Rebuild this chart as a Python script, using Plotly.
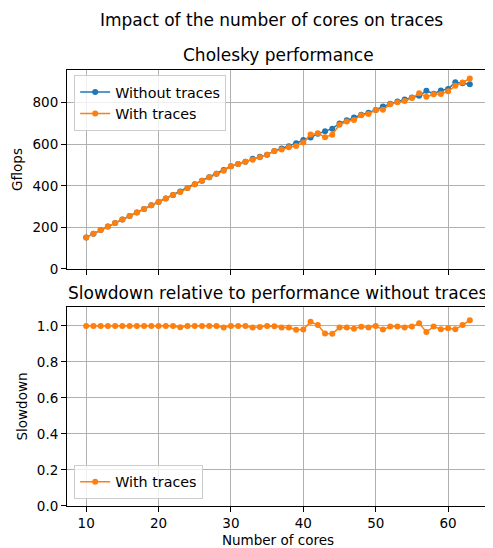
import plotly.graph_objects as go

# number of cores used for each run
cores = list(range(10, 64))

# Cholesky performance (Gflops)
gflops_without = [152, 170, 187, 204, 221, 238, 255, 272, 289, 306,
                  322, 339, 356, 373, 390, 407, 424, 441, 458, 476,
                  494, 505, 516, 530, 540, 550, 568, 580, 590, 605,
                  620, 632, 650, 662, 675, 700, 715, 728, 742, 752,
                  765, 782, 795, 805, 815, 825, 833, 857, 843, 858,
                  866, 898, 893, 888]
gflops_with = [152, 170, 187, 204, 221, 238, 255, 272, 289, 306,
               322, 339, 356, 370, 390, 407, 424, 441, 458, 472,
               494, 505, 516, 525, 537, 550, 567, 575, 585, 592,
               608, 647, 653, 634, 646, 694, 709, 717, 739, 745,
               765, 766, 792, 802, 808, 822, 845, 828, 840, 842,
               855, 881, 897, 916]

slowdown = [w / wo for w, wo in zip(gflops_with, gflops_without)]

BLUE = "#1f77b4"
ORANGE = "#ff7f0e"
FONT = "DejaVu Sans"

fig = go.Figure()
fig.add_trace(go.Scatter(x=cores, y=gflops_without, name="Without traces",
                         mode="lines+markers", line=dict(color=BLUE, width=1.5),
                         marker=dict(size=6, color=BLUE),
                         xaxis="x", yaxis="y", legend="legend"))
fig.add_trace(go.Scatter(x=cores, y=gflops_with, name="With traces",
                         mode="lines+markers", line=dict(color=ORANGE, width=1.5),
                         marker=dict(size=6, color=ORANGE),
                         xaxis="x", yaxis="y", legend="legend"))
fig.add_trace(go.Scatter(x=cores, y=slowdown, name="With traces",
                         mode="lines+markers", line=dict(color=ORANGE, width=1.5),
                         marker=dict(size=6, color=ORANGE),
                         xaxis="x2", yaxis="y2", legend="legend2"))

axis_style = dict(showline=True, mirror=True, linecolor="black", linewidth=1,
                  ticks="outside", ticklen=5, tickcolor="black",
                  showgrid=True, gridcolor="#b0b0b0", gridwidth=0.8,
                  zeroline=False, automargin=False,
                  tickfont=dict(size=13.5, color="black"))

legend_style = dict(bgcolor="rgba(255,255,255,0.8)", bordercolor="#cccccc",
                    borderwidth=1, font=dict(size=14.3, color="black"),
                    xanchor="left", x=0.017, tracegroupgap=0)

# the page body has an 8px margin, so the figure is 8px smaller than the window
fig.update_layout(
    width=485, height=540,
    margin=dict(l=59, r=4, t=62, b=42),
    plot_bgcolor="white", paper_bgcolor="white",
    font=dict(family=FONT, color="black"),
    xaxis=dict(domain=[0, 1], anchor="y", range=[7.35, 65.65],
               tickvals=[10, 20, 30, 40, 50, 60], showticklabels=False,
               **axis_style),
    yaxis=dict(domain=[0.5436, 1], anchor="x", range=[0, 957],
               tickvals=[0, 200, 400, 600, 800],
               title=dict(text="Gflops", font=dict(size=13.5), standoff=6),
               **axis_style),
    xaxis2=dict(domain=[0, 1], anchor="y2", range=[7.35, 65.65],
                tickvals=[10, 20, 30, 40, 50, 60],
                title=dict(text="Number of cores", font=dict(size=13.5), standoff=6),
                **axis_style),
    yaxis2=dict(domain=[0, 0.4564], anchor="x2", range=[0, 1.105],
                tickvals=[0, 0.2, 0.4, 0.6, 0.8, 1.0], tickformat=".1f",
                title=dict(text="Slowdown", font=dict(size=13.5), standoff=6),
                **axis_style),
    legend=dict(yanchor="top", y=0.988, **legend_style),
    legend2=dict(yanchor="bottom", y=0.016, **legend_style),
    annotations=[
        dict(text="Impact of the number of cores on traces", x=0.4846, y=1.1147,
             xref="paper", yref="paper", showarrow=False,
             xanchor="center", yanchor="middle", font=dict(size=17)),
        dict(text="Cholesky performance", x=0.5, y=1.0344,
             xref="paper", yref="paper", showarrow=False,
             xanchor="center", yanchor="middle", font=dict(size=17)),
        dict(text="Slowdown relative to performance without traces", x=0.5, y=0.4885,
             xref="paper", yref="paper", showarrow=False,
             xanchor="center", yanchor="middle", font=dict(size=17)),
    ],
)

fig.write_html("out.html")
